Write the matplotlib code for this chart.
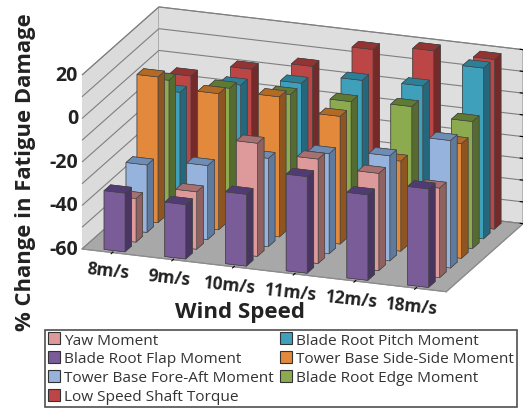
import matplotlib
matplotlib.use("Agg")
import matplotlib.pyplot as plt
from matplotlib.patches import Patch
from mpl_toolkits.mplot3d import proj3d

plt.rcParams['font.family'] = ['Open Sans', 'DejaVu Sans']

wind_speeds = ['8m/s', '9m/s', '10m/s', '11m/s', '12m/s', '18m/s']
z_ticks = [-60, -50, -40, -30, -20, -10, 0, 10, 20]
z_tick_labels = ['-60', '', '-40', '', '-20', '', '0', '', '20']

flap_moment = [-33, -35, -27, -15.6, -20.7, -14.7]
yaw_moment = [-40, -33.6, -8, -12, -15.3, -18.8]
fore_aft_moment = [-29, -26, -19.4, -14, -11.7, -1.4]
side_side_moment = [7, 2.6, 4.4, -1.3, -18.6, -7.3]
edge_moment = [1, 0.6, 1, 1, 2, -1.6]
pitch_moment = [-9, -2.4, 1.7, 6.3, 7, 18.5]
shaft_torque = [-6, 0.4, 5, 16, 18.7, 18]

# depth order, front row first: (name, values, front, top, side)
rows = [
    ('Blade Root Flap Moment', flap_moment, '#7A5C98', '#513B73', '#483660'),
    ('Yaw Moment', yaw_moment, '#DE9A9A', '#A87070', '#8F6262'),
    ('Tower Base Fore-Aft Moment', fore_aft_moment, '#95B3DC', '#6E8CB4', '#5F7A9C'),
    ('Tower Base Side-Side Moment', side_side_moment, '#E3893B', '#B36A25', '#8F5520'),
    ('Blade Root Edge Moment', edge_moment, '#8CAB4E', '#5E7A33', '#556B2F'),
    ('Blade Root Pitch Moment', pitch_moment, '#3FA0BC', '#2D7F98', '#25677C'),
    ('Low Speed Shaft Torque', shaft_torque, '#BC4545', '#933333', '#752A2A'),
]
legend_order = ['Yaw Moment', 'Blade Root Flap Moment', 'Tower Base Fore-Aft Moment',
                'Low Speed Shaft Torque', 'Blade Root Pitch Moment',
                'Tower Base Side-Side Moment', 'Blade Root Edge Moment']

BAR_W, BAR_D = 0.345, 0.6
Z0, Z1 = z_ticks[0], z_ticks[-1]

fig = plt.figure(figsize=(5.23, 4.10), dpi=100)
ax = fig.add_axes([0.0, 0.0, 1.0, 1.0], projection='3d', proj_type='ortho')
ax.patch.set_alpha(0)
ax.view_init(elev=18.8, azim=-70)
ax.set_box_aspect((388, 225, 184))
ax.computed_zorder = False
ax.set_xlim(0, len(wind_speeds))
ax.set_ylim(0, len(rows))
ax.set_zlim(Z0, Z1)

# walls and floor
for axis, col in ((ax.xaxis, '#DBDBDB'), (ax.yaxis, '#DEDEDE'), (ax.zaxis, '#A8A8A8')):
    axis.set_pane_color(col)
    axis.pane.set_edgecolor('#8C8C8C')
    axis.pane.set_linewidth(0.8)
    axis.line.set_color('#8C8C8C')
    axis.line.set_linewidth(0.8)
    axis.label.set_visible(False)
    axis.offsetText.set_visible(False)
ax.xaxis._axinfo['grid'].update(linewidth=0)
ax.yaxis._axinfo['grid'].update(linewidth=0)
ax.zaxis._axinfo['grid'].update(color='#7F7F7F', linewidth=0.8)
ax.grid(True)

ax.set_xticks([i + 0.5 for i in range(len(wind_speeds))])
ax.set_yticks([])
ax.set_zticks(z_ticks)
ax.tick_params(axis='both', length=0, labelbottom=False, labelleft=False,
               labelright=False, labeltop=False, label1On=False, label2On=False)

# bars, painted back row to front row, left to right
order = 0
for r in range(len(rows) - 1, -1, -1):
    name, values, front, top, side = rows[r]
    for i, v in enumerate(values):
        x0 = i + 0.5 - BAR_W / 2
        y0 = r + 0.5 - BAR_D / 2
        # faces: bottom, top, front, back, left, right
        ax.bar3d(x0, y0, Z0, BAR_W, BAR_D, v - Z0, shade=False,
                 color=[side, top, front, side, side, side],
                 edgecolor='#444444', linewidth=0.45, zorder=10 + order)
        order += 1


def corner(x, y, z):
    fig.canvas.draw()
    px, py, _ = proj3d.proj_transform(x, y, z, ax.M)
    return ax.transData.transform((px, py))


# scale and place the axes so the floor corners land where the reference has them
W, H = 523.0, 410.0
nx, ny = len(wind_speeds), len(rows)
a = corner(0, 0, Z0)
b = corner(nx, ny, Z0)
scale = (((523 - 82) ** 2 + 27 ** 2) ** 0.5) / (((b - a) ** 2).sum() ** 0.5)
ax.set_position([0, 0, scale * H / W, scale])
a = corner(0, 0, Z0)
pos = ax.get_position(original=True)
ax.set_position([pos.x0 + (82 - a[0]) / W, pos.y0 + ((H - 250) - a[1]) / H, pos.width, pos.height])

# tick labels
for z, lab in zip(z_ticks, z_tick_labels):
    if lab:
        p = corner(0, 0, z)
        fig.text((p[0] - 4) / W, p[1] / H, lab, ha='right', va='center', fontsize=14,
                 fontweight='bold', color='#222222')
for i, lab in enumerate(wind_speeds):
    p = corner(i + 0.5, 0, Z0)
    fig.text((p[0] - 4) / W, (p[1] - 17.5) / H, lab, ha='center', va='center', fontsize=12.5,
             fontweight='bold', color='#222222', rotation=-6, rotation_mode='anchor')

fig.text(26 / W, 1 - 172 / H, '% Change in Fatigue Damage', rotation=90, ha='center',
         va='center', fontsize=15.8, fontweight='bold', color='#222222')
fig.text(240 / W, 1 - 313 / H, 'Wind Speed', ha='center', va='center', fontsize=16,
         fontweight='bold', color='#222222')

by_name = {row[0]: row[2] for row in rows}
handles = [Patch(facecolor=by_name[n], edgecolor='#333333', linewidth=0.8, label=n)
           for n in legend_order]
leg = fig.legend(handles=handles, ncol=2, loc='lower left',
                 bbox_to_anchor=(45 / W, 1 - 408 / H), bbox_transform=fig.transFigure,
                 fontsize=11.1, frameon=True, fancybox=False, edgecolor='#222222',
                 handlelength=0.8, handleheight=0.8, handletextpad=0.26, columnspacing=0.4,
                 labelspacing=0.235, borderpad=0.18, borderaxespad=0)
leg.get_frame().set_linewidth(1.2)
for t in leg.get_texts():
    t.set_color('#333333')

fig.savefig('out.png', dpi=100)
